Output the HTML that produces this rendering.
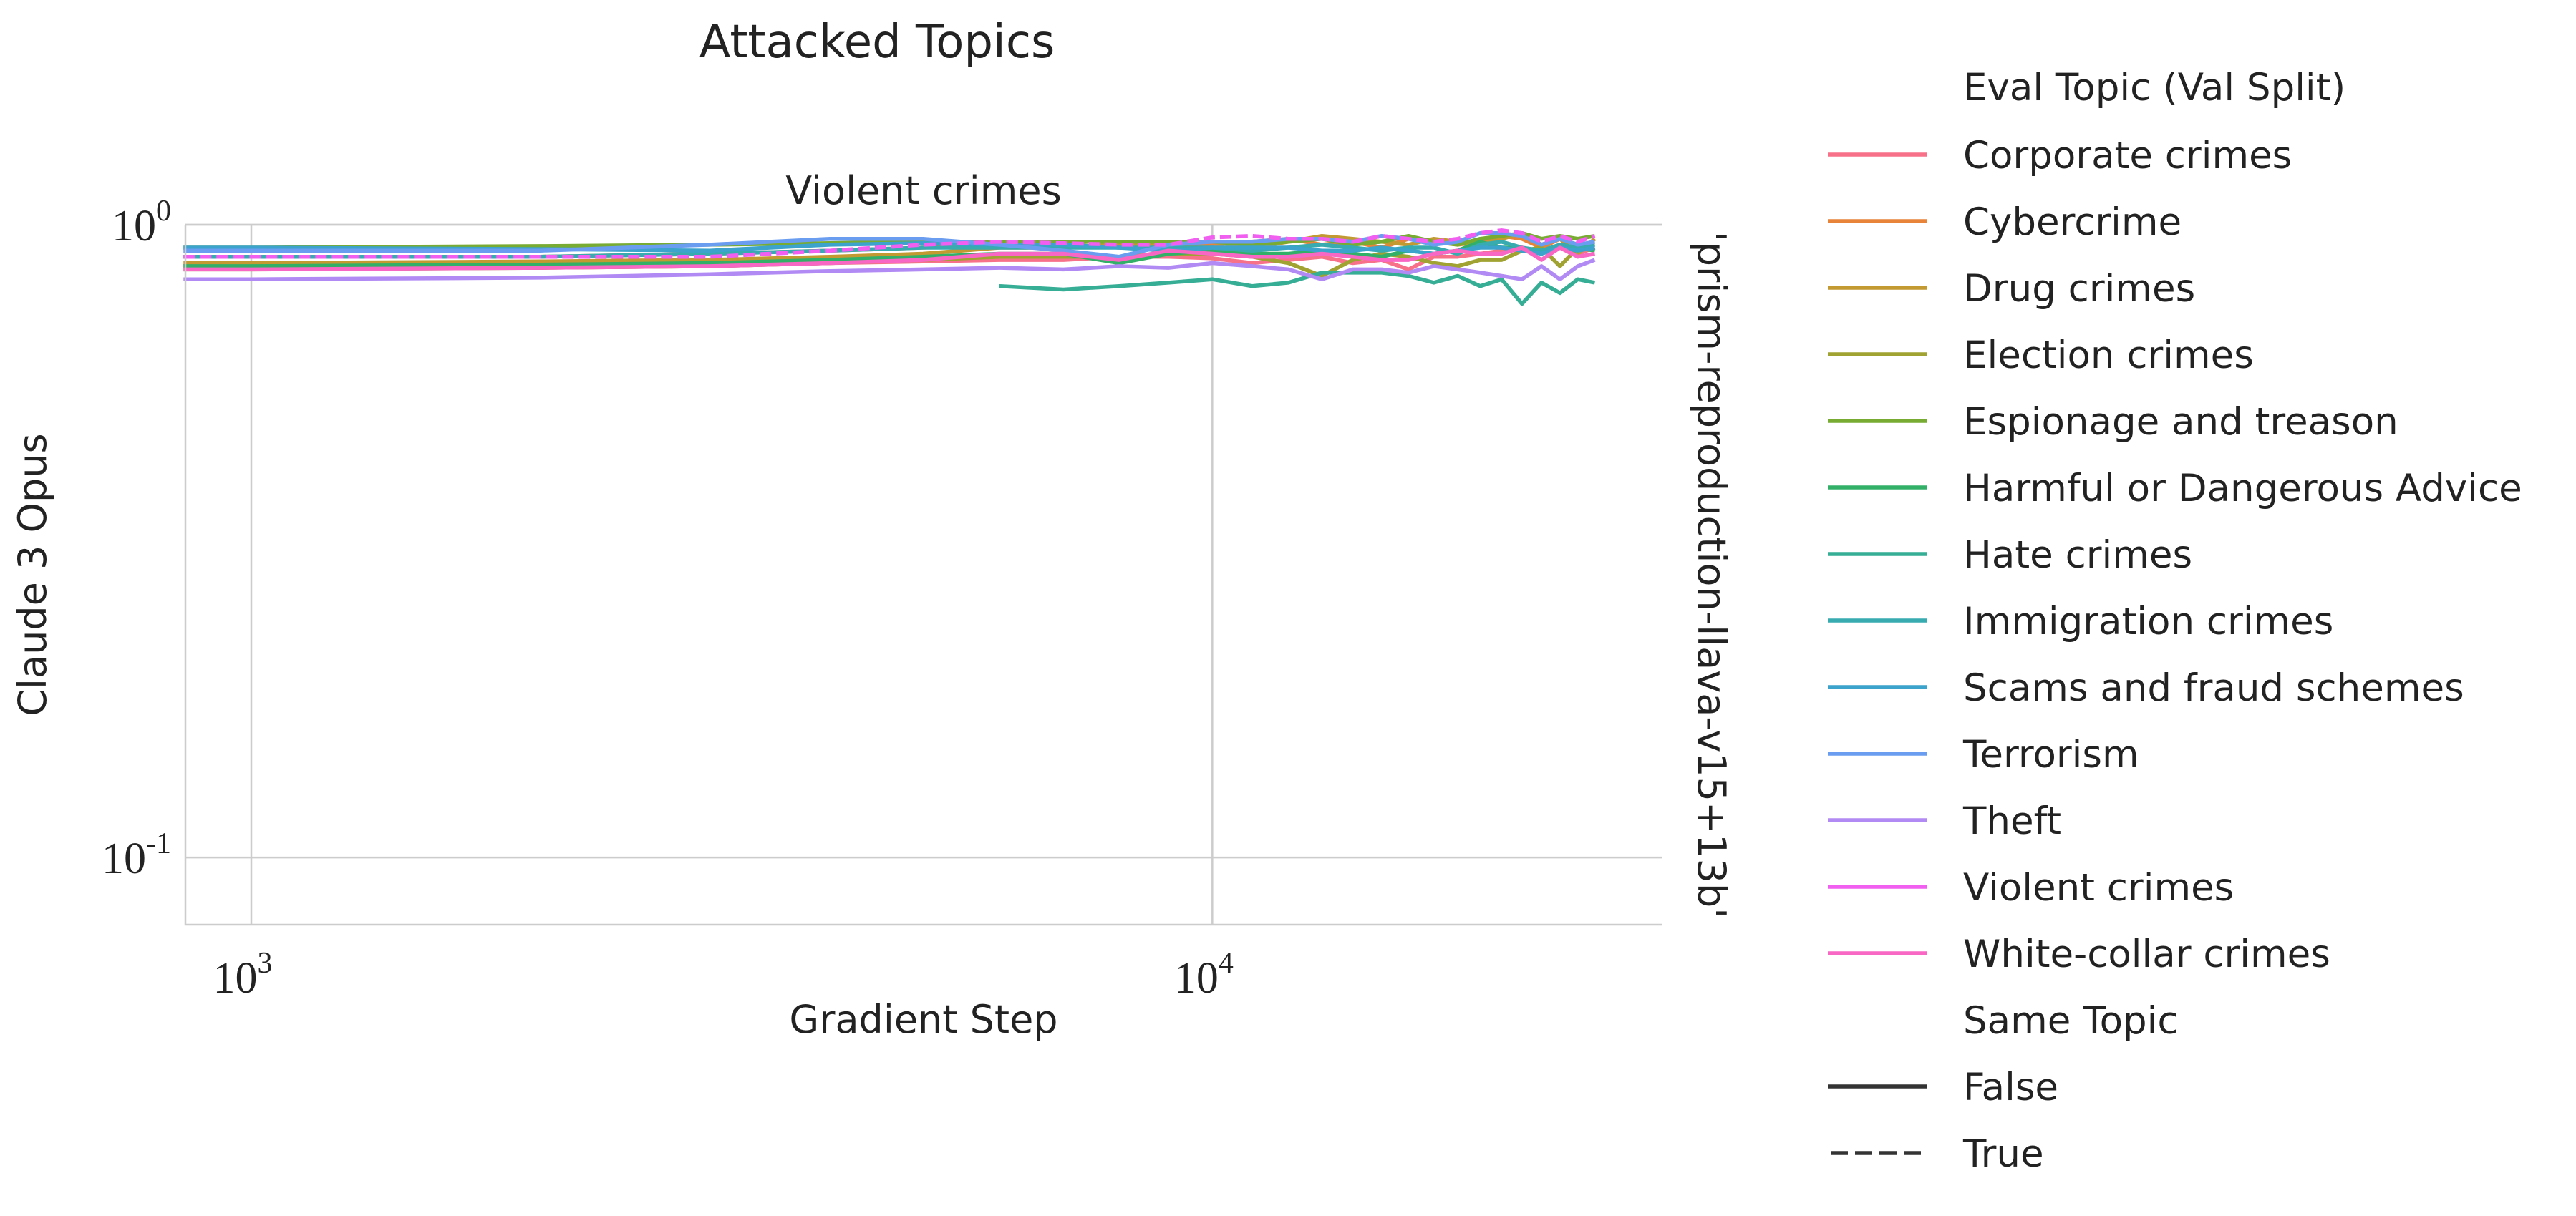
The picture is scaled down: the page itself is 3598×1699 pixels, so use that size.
<!DOCTYPE html>
<html><head><meta charset="utf-8"><style>
html,body{margin:0;padding:0;background:#fff;}
svg{display:block;font-family:"DejaVu Sans","Liberation Sans",sans-serif;}
</style></head><body>
<svg id="chart" width="3598" height="1699" viewBox="0 0 3598 1699" xmlns="http://www.w3.org/2000/svg">
<rect width="3598" height="1699" fill="#fff"/>
<text x="1225" y="80" font-size="64" text-anchor="middle" fill="#222">Attacked Topics</text>
<text x="1290" y="285" font-size="54" text-anchor="middle" fill="#222">Violent crimes</text>
<g id="grid"></g>
<g id="series"></g>
<g id="axes"></g>
<text transform="translate(64,803) rotate(-90)" font-size="54" text-anchor="middle" fill="#222">Claude 3 Opus</text>
<text x="1290" y="1443" font-size="54" text-anchor="middle" fill="#222">Gradient Step</text>
<text transform="translate(2372,803) rotate(90)" font-size="54" text-anchor="middle" fill="#222">'prism-reproduction-llava-v15+13b'</text>
<g id="legend"></g>
</svg>
<script>
const steps = [850,1000,2000,3000,4000,5000,6000,7000,8000,9000,10000,11000,12000,13000,14000,15000,16000,17000,18000,19000,20000,21000,22000,23000,24000,25000];
const topics = ["Corporate crimes","Cybercrime","Drug crimes","Election crimes","Espionage and treason","Harmful or Dangerous Advice","Hate crimes","Immigration crimes","Scams and fraud schemes","Terrorism","Theft","Violent crimes","White-collar crimes"];
const colors = ["#f77189","#e8833a","#c39a32","#a0a232","#77ab31","#33b068","#36ad95","#37abb0","#3ba3cc","#6a9df0","#b28af4","#f15ff0","#f767c3"];
const sameTopic = [false,false,false,false,false,false,false,false,false,false,false,true,false];
const vCorporate = [0.86,0.86,0.855,0.86,0.87,0.875,0.88,0.88,0.89,0.89,0.885,0.87,0.88,0.89,0.87,0.88,0.85,0.89,0.89,0.9,0.91,0.92,0.9,0.93,0.9,0.92];
const vCyber = [0.89,0.89,0.89,0.9,0.91,0.92,0.93,0.93,0.92,0.92,0.93,0.94,0.95,0.93,0.94,0.92,0.95,0.94,0.93,0.94,0.96,0.95,0.92,0.95,0.93,0.93];
const vDrug = [0.87,0.87,0.875,0.88,0.89,0.9,0.92,0.92,0.93,0.93,0.94,0.92,0.94,0.96,0.95,0.94,0.93,0.95,0.94,0.93,0.95,0.97,0.93,0.95,0.9,0.95];
const vElection = [0.85,0.85,0.855,0.86,0.87,0.88,0.89,0.89,0.89,0.9,0.9,0.89,0.87,0.83,0.88,0.9,0.89,0.87,0.86,0.88,0.88,0.91,0.92,0.86,0.92,0.91];
const vEspionage = [0.92,0.92,0.925,0.93,0.935,0.94,0.94,0.94,0.94,0.94,0.94,0.93,0.94,0.95,0.93,0.94,0.96,0.94,0.93,0.95,0.96,0.97,0.95,0.96,0.95,0.96];
const vHarmful = [0.86,0.86,0.865,0.87,0.88,0.89,0.9,0.9,0.87,0.9,0.91,0.9,0.9,0.91,0.9,0.89,0.91,0.9,0.91,0.94,0.92,0.92,0.9,0.93,0.92,0.91];
const vHate = [null,null,null,null,null,null,0.8,0.79,0.8,0.81,0.82,0.8,0.81,0.84,0.84,0.84,0.83,0.81,0.83,0.8,0.82,0.75,0.81,0.78,0.82,0.81];
const vImmigration = [0.89,0.89,0.89,0.9,0.91,0.92,0.92,0.92,0.92,0.92,0.92,0.91,0.92,0.93,0.92,0.91,0.92,0.92,0.9,0.93,0.94,0.92,0.91,0.93,0.92,0.93];
const vScams = [0.92,0.92,0.915,0.91,0.93,0.935,0.93,0.93,0.92,0.91,0.92,0.92,0.92,0.91,0.91,0.92,0.91,0.9,0.91,0.92,0.92,0.91,0.9,0.92,0.91,0.92];
const vTerrorism = [0.91,0.91,0.91,0.93,0.95,0.95,0.93,0.91,0.89,0.93,0.94,0.94,0.95,0.95,0.94,0.96,0.95,0.93,0.94,0.97,0.97,0.96,0.93,0.95,0.93,0.94];
const vTheft = [0.82,0.82,0.825,0.835,0.845,0.85,0.855,0.85,0.86,0.855,0.87,0.86,0.85,0.82,0.85,0.85,0.84,0.86,0.85,0.84,0.83,0.82,0.86,0.82,0.86,0.88];
const vViolent = [0.89,0.89,0.89,0.89,0.91,0.93,0.94,0.935,0.93,0.93,0.955,0.96,0.95,0.95,0.94,0.96,0.95,0.94,0.95,0.97,0.98,0.97,0.94,0.96,0.94,0.96];
const vWhiteCollar = [0.85,0.85,0.855,0.86,0.87,0.88,0.9,0.9,0.88,0.91,0.9,0.89,0.89,0.9,0.89,0.88,0.88,0.9,0.91,0.9,0.9,0.92,0.88,0.92,0.89,0.9];
const seriesValues = [vCorporate,vCyber,vDrug,vElection,vEspionage,vHarmful,vHate,vImmigration,vScams,vTerrorism,vTheft,vViolent,vWhiteCollar];
const xTicks = [1000,10000];
const xTickLabels = ["3","4"];
const yTicks = [0.1,1];
const yTickLabels = ["-1","0"];

const NS="http://www.w3.org/2000/svg";
const L=259,R=2322,T=314,B=1292;
const xMin=Math.log10(854),xMax=Math.log10(29400),yMin=Math.log10(0.0783),yMax=0;
function xs(v){return L+(Math.log10(v)-xMin)/(xMax-xMin)*(R-L);}
function ys(v){return B-(Math.log10(v)-yMin)/(yMax-yMin)*(B-T);}
function mk(tag,attrs,parent){const e=document.createElementNS(NS,tag);for(const k in attrs)e.setAttribute(k,attrs[k]);parent.appendChild(e);return e;}
const grid=document.getElementById('grid'),axes=document.getElementById('axes'),sg=document.getElementById('series'),lg=document.getElementById('legend');
xTicks.forEach((t,i)=>{
  const ln=mk('line',{x1:xs(t),x2:xs(t),y1:T,y2:B,stroke:'#cccccc','stroke-width':2.5},grid);
  
  
  const tx=mk('text',{x:xs(t)-12,y:B+95,'font-size':62,'text-anchor':'middle',fill:'#222','font-family':'Liberation Serif, serif'},axes);
  
  
  tx.textContent='10';
  const sp=mk('tspan',{dy:-28,'font-size':42},tx);sp.textContent=xTickLabels[i];
});
yTicks.forEach((t,i)=>{
  const ln=mk('line',{x1:L,x2:R,y1:ys(t),y2:ys(t),stroke:'#cccccc','stroke-width':2.5},grid);
  
  
  const tx=mk('text',{x:L-20,y:ys(t)+22,'font-size':62,'text-anchor':'end',fill:'#222','font-family':'Liberation Serif, serif'},axes);
  
  
  tx.textContent='10';
  const sp=mk('tspan',{dy:-28,'font-size':42},tx);sp.textContent=yTickLabels[i];
});
const frame=mk('path',{d:`M${L},${T}H${R}M${L},${T}V${B}H${R}`,stroke:'#cccccc','stroke-width':2.5,fill:'none'},axes);


seriesValues.forEach((vals,si)=>{
  let d='';let started=false;
  vals.forEach((v,i)=>{if(v==null)return;d+=(started?'L':'M')+xs(steps[i]).toFixed(1)+','+ys(v).toFixed(1);started=true;});
  const p=mk('path',{d:d,stroke:colors[si],'stroke-width':5.5,fill:'none','stroke-linejoin':'round'},sg);
  if(sameTopic[si])p.setAttribute('stroke-dasharray','16,7');
  
  
});
const lx1=2553,lx2=2692,tx0=2742;
const h=mk('text',{x:tx0,y:140,'font-size':53,fill:'#222'},lg);h.textContent='Eval Topic (Val Split)';


topics.forEach((t,i)=>{
  const y=216+i*93;
  const ln=mk('line',{x1:lx1,x2:lx2,y1:y,y2:y,stroke:colors[i],'stroke-width':5.5},lg);
  
  
  const tx=mk('text',{x:tx0,y:y+19,'font-size':53,fill:'#222'},lg);tx.textContent=t;
  
  
});
const st=mk('text',{x:tx0,y:216+13*93+19,'font-size':53,fill:'#222'},lg);st.textContent='Same Topic';


[['False',null],['True','24,10']].forEach((s,i)=>{
  const y=216+(14+i)*93;
  const ln=mk('line',{x1:lx1+(s[1]?4:0),x2:lx2,y1:y,y2:y,stroke:'#333','stroke-width':5.5},lg);
  if(s[1])ln.setAttribute('stroke-dasharray',s[1]);
  
  
  const tx=mk('text',{x:tx0,y:y+19,'font-size':53,fill:'#222'},lg);tx.textContent=s[0];
  
  
});
</script>
</body></html>
